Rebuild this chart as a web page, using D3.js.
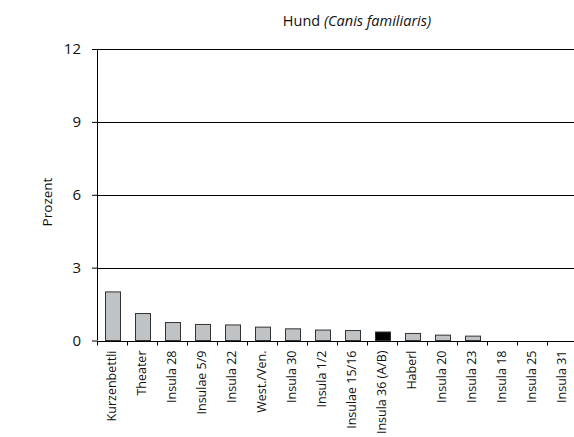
<!DOCTYPE html>
<html><head><meta charset="utf-8">
<script src="https://cdn.jsdelivr.net/npm/d3@7"></script>
<style>body{margin:0;background:#fff}svg{display:block}</style>
</head><body><svg id="c" width="574" height="437"></svg>
<script>
const categories = ["Kurzenbettli","Theater","Insula 28","Insulae 5/9","Insula 22","West./Ven.","Insula 30","Insula 1/2","Insulae 15/16","Insula 36 (A/B)","Haberl","Insula 20","Insula 23","Insula 18","Insula 25","Insula 31"];
const values = [2.0,1.11,0.74,0.66,0.64,0.55,0.48,0.43,0.41,0.35,0.29,0.22,0.18,0,0,0];
const highlight = ["Insula 36 (A/B)"];
const yTicks = [0,3,6,9,12];
const titleMain = "Hund ";
const titleItalic = "(Canis familiaris)";
const yLabel = "Prozent";

const svg = d3.select("#c");
const font = "'Open Sans', sans-serif";
const mLeft = 97, mRight = 577, mTop = 49, mBottom = 340.5;
const x = d3.scaleBand().domain(categories).range([mLeft, mRight]).paddingInner(0.5).paddingOuter(0.25);
const y = d3.scaleLinear().domain([0,12]).range([mBottom, mTop]);

// gridlines
svg.append("g").selectAll("line").data(yTicks.filter(d=>d>0)).join("line")
  .attr("x1", mLeft).attr("x2", 574).attr("y1", d=>Math.round(y(d))+0.5).attr("y2", d=>Math.round(y(d))+0.5)
  .attr("stroke","#000").attr("stroke-width",1);

// bars
svg.append("g").selectAll("rect").data(categories).join("rect")
  .attr("x", d=>Math.round(x(d))+0.5)
  .attr("width", Math.round(x.bandwidth()))
  .attr("y", (d,i)=>y(values[i]))
  .attr("height", (d,i)=>y(0)-y(values[i]))
  .attr("fill", d=>highlight.includes(d) ? "#000" : "#c0c3c6")
  .attr("stroke", "#333").attr("stroke-width",1)
  .style("display",(d,i)=>values[i]>0?null:"none");

// y axis
const ya = svg.append("g").attr("transform",`translate(${mLeft},0)`)
  .call(d3.axisLeft(y).tickValues(yTicks).tickSize(5).tickPadding(11).tickFormat(d3.format("d")));
ya.select(".domain").attr("stroke","#000").attr("d",`M0.5,${mTop}V${mBottom}`);
ya.selectAll(".tick line").attr("stroke","#000");
ya.selectAll("text").attr("font-family",font).attr("font-size",15).attr("fill","#111");

// x axis
const xa = svg.append("g").attr("transform",`translate(0,${Math.round(mBottom)+0.5})`)
  .call(d3.axisBottom(x).tickSize(0).tickSizeOuter(0));
xa.select(".domain").attr("stroke","#000").attr("d",`M${mLeft},0H574`);
xa.selectAll(".tick line").remove();
xa.selectAll(".tick text")
  .attr("font-family",font).attr("font-size",12.5).attr("fill","#111")
  .attr("transform","rotate(-90)").attr("text-anchor","end")
  .attr("x",-9).attr("y",0).attr("dy","0.35em");
// band boundary ticks
const step = x.step();
xa.append("g").selectAll("line").data(d3.range(categories.length+1)).join("line")
  .attr("x1", d=>mLeft + d*step + 0.5).attr("x2", d=>mLeft + d*step + 0.5)
  .attr("y1",0).attr("y2",4).attr("stroke","#000");

// title
const t = svg.append("text").attr("x",357).attr("y",26).attr("text-anchor","middle")
  .attr("font-family",font).attr("font-size",14.5).attr("fill","#111");
t.append("tspan").text(titleMain);
t.append("tspan").attr("font-style","italic").text(titleItalic);

// y label
svg.append("text").attr("transform","translate(52,202) rotate(-90)").attr("text-anchor","middle")
  .attr("font-family",font).attr("font-size",13.5).attr("fill","#111").text(yLabel);
</script></body></html>
